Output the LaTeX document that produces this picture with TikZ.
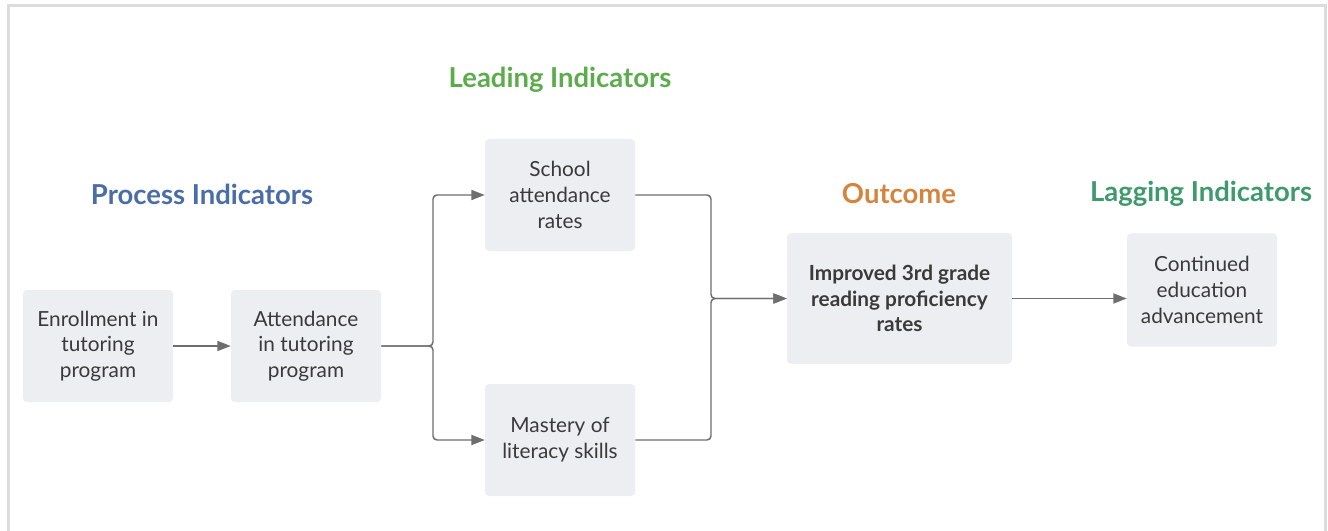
\documentclass[tikz,border=0pt]{standalone}
\usepackage{fontspec}
\setmainfont{Lato}
\usetikzlibrary{arrows.meta}

\definecolor{boxfill}{HTML}{EDEEF2}
\definecolor{boxtext}{HTML}{3A3A3A}
\definecolor{linegray}{HTML}{6E6E6E}
\definecolor{framegray}{HTML}{DCDCDC}
\definecolor{procblue}{HTML}{4A6DA7}
\definecolor{leadgreen}{HTML}{5BAD4C}
\definecolor{outorange}{HTML}{D4843C}
\definecolor{laggreen}{HTML}{3E9A6D}

\tikzset{
  box/.style={fill=boxfill, rounded corners=3pt, text=boxtext, align=center,
    font=\fontsize{15.6}{19.2}\selectfont, minimum width=112.5pt, minimum height=84pt, inner sep=2pt},
  heading/.style={font=\fontsize{20.6}{24}\selectfont\bfseries},
  link/.style={draw=linegray, line width=1.1pt, rounded corners=3pt,
    -{Triangle[length=10pt, width=7.5pt]}}
}

\begin{document}
\begin{tikzpicture}[x=0.75pt, y=-0.75pt]
  \useasboundingbox (0,0) rectangle (1328,531);
  \fill[white] (0,0) rectangle (1328,531);
  \draw[framegray, line width=1.6pt] (8.5,545) -- (8.5,5.5) -- (1325.5,5.5) -- (1325.5,545);

  % Headings
  \node[heading, text=procblue] (hproc) at (202,194) {Process Indicators};
  \node[heading, text=leadgreen] (hlead) at (560,80) {Leading Indicators};
  \node[heading, text=outorange] (hout) at (899,194) {Outcome};
  \node[heading, text=laggreen] (hlag) at (1201,194) {Lagging Indicators};

  % Boxes
  \node[box] (enroll) at (98,346) {Enrollment in\\tutoring\\program};
  \node[box] (attend) at (306,346) {Attendance\\in tutoring\\program};
  \node[box] (school) at (560,195) {School\\attendance\\rates};
  \node[box] (mastery) at (560,440) {Mastery of\\literacy skills};
  \node[box, minimum width=168.75pt, minimum height=98pt, font=\fontsize{15.6}{19.2}\selectfont\bfseries]
    (improved) at (899.5,298.5) {Improved 3rd grade\\reading proficiency\\rates};
  \node[box, minimum height=85pt] (continued) at (1202,290) {Continued\\education\\advancement};

  % Connectors
  \coordinate (split) at (433,346);
  \coordinate (merge) at (711,298.5);
  \draw[link] (enroll) -- (attend);
  \draw[link] (attend.east) -- (split) |- (school.west);
  \draw[link] (attend.east) -- (split) |- (mastery.west);
  \draw[link] (school.east) -| (merge) -- (improved.west);
  \draw[link] (mastery.east) -| (merge) -- (improved.west);
  \draw[link] (improved.east) -- (improved.east -| continued.west);
\end{tikzpicture}
\end{document}
